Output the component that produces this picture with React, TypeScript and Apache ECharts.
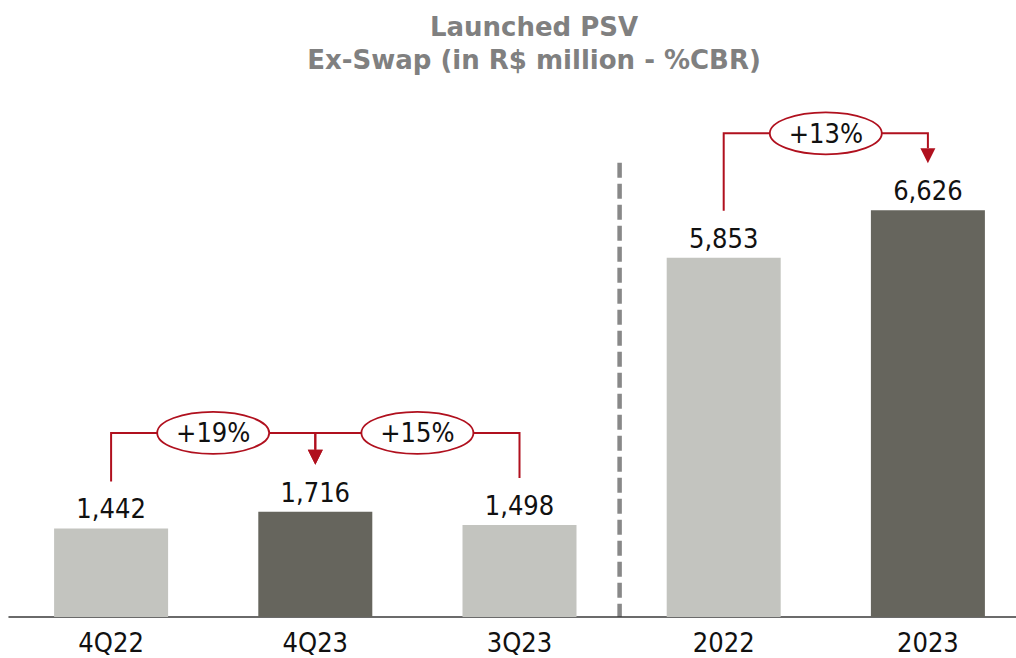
import React, { useEffect, useRef } from 'react';
import * as echarts from 'echarts';

const categories = ['4Q22', '4Q23', '3Q23', '2022', '2023'];
const values = [1442, 1716, 1498, 5853, 6626];
const barColors = ['#C3C4BF', '#66655D', '#C3C4BF', '#C3C4BF', '#66655D'];
const titleLines = ['Launched PSV', 'Ex-Swap (in R$ million - %CBR)'];
// growth comparisons: leg at "from", arrow at "to", label on the bracket, bracket level (value units)
const compFrom = [0, 2, 3];
const compTo = [1, 1, 4];
const compLabels = ['+19%', '+15%', '+13%'];
const compLevels = [3000, 3000, 7880];
// separator between quarterly and annual groups
const separatorAfter = 2;
const separatorTop = 7400;

const RED = '#B0101E';
const LABEL_FONT = '"DejaVu Sans Condensed", "DejaVu Sans", sans-serif';

export default function App() {
  const ref = useRef<HTMLDivElement>(null);
  useEffect(() => {
    if (!ref.current) return;
    const chart = echarts.init(ref.current, null, { renderer: 'svg' });
    chart.setOption({
      animation: false,
      grid: { left: 9, top: 126, width: 1021, height: 491, containLabel: false },
      xAxis: {
        type: 'category',
        data: categories,
        axisLine: { lineStyle: { color: '#3A3A3A', width: 1.5 } },
        axisTick: { show: false },
        axisLabel: { color: '#111', fontSize: 27, fontFamily: LABEL_FONT, margin: 12 },
      },
      yAxis: {
        type: 'value',
        min: 0,
        max: 8000,
        show: false,
        splitLine: { show: false },
      },
      series: [
        {
          type: 'bar',
          barWidth: 114,
          data: values.map((v, i) => ({ value: v, itemStyle: { color: barColors[i] } })),
          label: {
            show: true,
            position: 'top',
            distance: 6,
            color: '#111',
            fontSize: 27,
            fontFamily: LABEL_FONT,
            formatter: (p: any) => Number(p.value).toLocaleString('en-US'),
          },
        },
      ],
    });

    const px = (i: number, v: number) =>
      chart.convertToPixel({ xAxisIndex: 0, yAxisIndex: 0 }, [categories[i], v]) as number[];

    const graphics: any[] = [];
    titleLines.forEach((t, k) => {
      graphics.push({
        type: 'text',
        x: 534,
        y: 27 + k * 33,
        style: {
          text: t,
          fill: '#808080',
          fontSize: 26,
          fontWeight: 'bold',
          fontFamily: '"DejaVu Sans", sans-serif',
          align: 'center',
          verticalAlign: 'middle',
        },
      });
    });

    // separator
    const sx = (px(separatorAfter, 0)[0] + px(separatorAfter + 1, 0)[0]) / 2 - 2;
    graphics.push({
      type: 'line',
      shape: { x1: sx, y1: px(0, separatorTop)[1], x2: sx, y2: px(0, 0)[1] },
      style: { stroke: '#888888', lineWidth: 4.5, lineDash: [15, 6] },
    });

    const gap = 47;
    compFrom.forEach((f, k) => {
      const t = compTo[k];
      const [fx, fy] = px(f, values[f]);
      const [tx, ty] = px(t, values[t]);
      const ly = px(f, compLevels[k])[1];
      const legEnd = fy - gap;
      const tip = ty - gap;
      graphics.push({
        type: 'polyline',
        shape: { points: [[fx, legEnd], [fx, ly], [tx, ly], [tx, tip - 15]] },
        style: { stroke: RED, lineWidth: 2, fill: null },
      });
      graphics.push({
        type: 'polygon',
        shape: { points: [[tx - 7.5, tip - 15], [tx + 7.5, tip - 15], [tx, tip]] },
        style: { fill: RED, stroke: null },
      });
      const cx = (fx + tx) / 2;
      graphics.push({
        type: 'ellipse',
        shape: { cx, cy: ly, rx: 56, ry: 21 },
        style: { fill: '#ffffff', stroke: RED, lineWidth: 1.8 },
      });
      graphics.push({
        type: 'text',
        x: cx,
        y: ly,
        style: {
          text: compLabels[k],
          fill: '#111',
          fontSize: 27,
          fontFamily: LABEL_FONT,
          align: 'center',
          verticalAlign: 'middle',
        },
      });
    });

    chart.setOption({ graphic: graphics });
    return () => chart.dispose();
  }, []);
  return (
    <div
      style={{ position: 'absolute', left: 0, top: 0, width: 1016, height: 658, overflow: 'hidden', background: '#fff' }}
    >
      <div ref={ref} style={{ width: 1032, height: 658 }} />
    </div>
  );
}
